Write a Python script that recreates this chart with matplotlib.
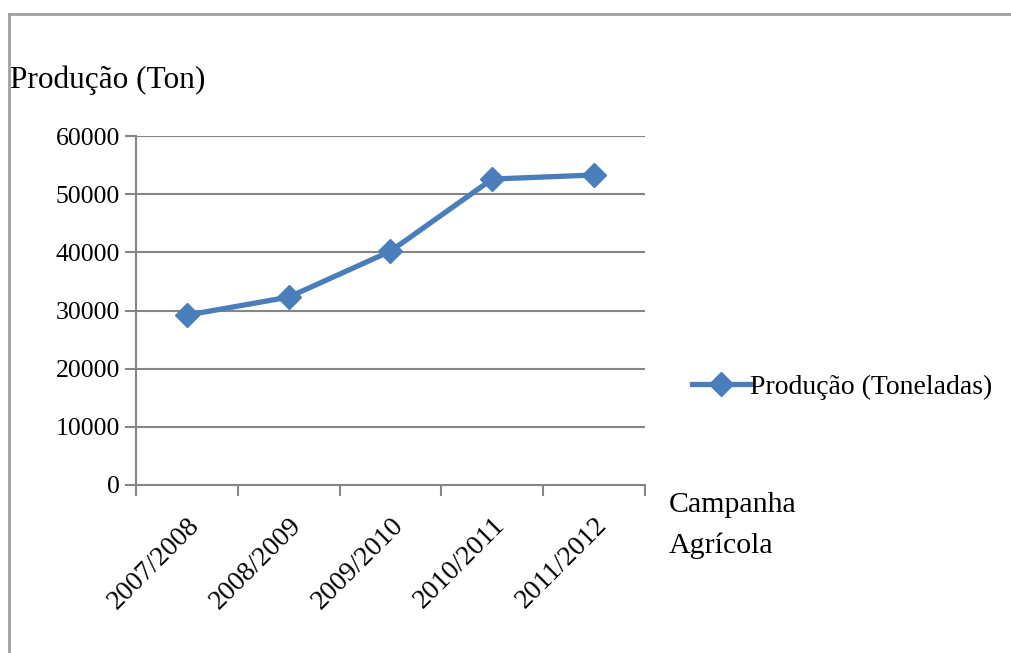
import matplotlib.pyplot as plt
from matplotlib.lines import Line2D

plt.rcParams['font.family'] = ['Liberation Serif', 'DejaVu Serif']

campanhas = ['2007/2008', '2008/2009', '2009/2010', '2010/2011', '2011/2012']
producao = [29200, 32300, 40200, 52600, 53300]
yticks = [0, 10000, 20000, 30000, 40000, 50000, 60000]

blue = '#4a7ebb'
grey = '#868686'

fig = plt.figure(figsize=(10.11, 6.53), dpi=100)
ax = fig.add_axes([0.1345, 0.2573, 0.5035, 0.5344])

x = list(range(len(campanhas)))
ax.plot(x, producao, color=blue, lw=3.8, marker='D', ms=12.5,
        markerfacecolor=blue, markeredgecolor=blue, label='Produção (Toneladas)')

ax.set_xlim(-0.5, len(campanhas) - 0.5)
ax.set_ylim(0, 60000)
ax.set_yticks(yticks)
ax.set_yticklabels([str(v) for v in yticks], fontsize=18.5)
for v in yticks[1:]:
    ax.axhline(v, color=grey, lw=1.5, zorder=0)

# category boundaries carry the ticks, labels sit in between
ax.set_xticks([i - 0.5 for i in range(len(campanhas) + 1)])
ax.set_xticklabels([])
ax.set_xticks(x, minor=True)
ax.set_xticklabels(campanhas, minor=True, rotation=45, ha='right',
                   rotation_mode='anchor', fontsize=20)
ax.tick_params(axis='x', which='minor', length=0, pad=20)
ax.tick_params(axis='x', which='major', length=8, width=1.5, color=grey)
ax.tick_params(axis='y', length=8, width=1.5, color=grey, pad=3.5)

for s in ['top', 'right']:
    ax.spines[s].set_visible(False)
for s in ['left', 'bottom']:
    ax.spines[s].set_color(grey)
    ax.spines[s].set_linewidth(1.5)

fig.text(0.010, 0.877, 'Produção (Ton)', fontsize=22.5, ha='left', va='center')
fig.text(0.661, 0.227, 'Campanha', fontsize=21.5, ha='left', va='center')
fig.text(0.661, 0.165, 'Agrícola', fontsize=21.5, ha='left', va='center')

ax.legend(loc='center left', bbox_to_anchor=(1.07, 0.28), frameon=False,
          fontsize=20, handlelength=2.1, handletextpad=0.0, borderaxespad=0)

# outer frame: top and left edges only
fig.add_artist(Line2D([0.009, 1.0], [0.979, 0.979], color='#a0a0a0', lw=2,
                      transform=fig.transFigure))
fig.add_artist(Line2D([0.009, 0.009], [0.0, 0.979], color='#a0a0a0', lw=2,
                      transform=fig.transFigure))

fig.savefig('out.png', dpi=100)
